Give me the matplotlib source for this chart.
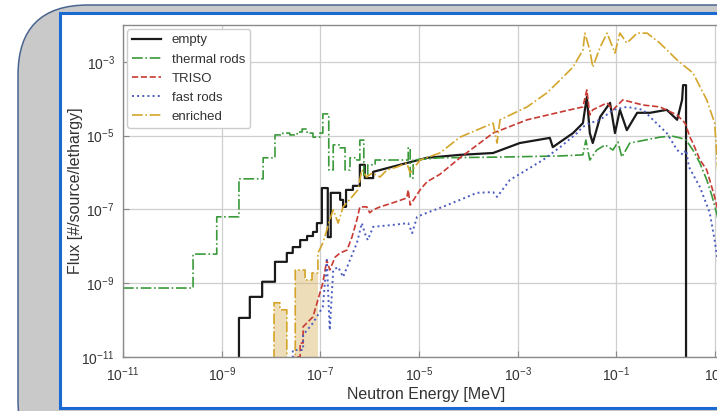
import numpy as np
import matplotlib
matplotlib.use('Agg')
import matplotlib.pyplot as plt
from matplotlib.patches import FancyBboxPatch, Rectangle
from matplotlib.transforms import IdentityTransform

plt.rcParams['font.family'] = ['Liberation Sans', 'DejaVu Sans']
plt.rcParams['mathtext.fontset'] = 'custom'
plt.rcParams['mathtext.rm'] = 'Liberation Sans'
plt.rcParams['mathtext.it'] = 'Liberation Sans:italic'
plt.rcParams['mathtext.bf'] = 'Liberation Sans:bold'

# values, stored as log10(energy [MeV]) and log10(flux)
empty_logE = [-8.65, -8.65, -8.43, -8.18, -7.92, -7.68, -7.56, -7.41, -7.27, -7.15, -7.07,
              -6.97, -6.85, -6.79, -6.60, -6.54, -6.48, -6.34, -6.20, -6.10, -5.93,
              -5.39, -4.84, -4.17, -3.50, -2.96, -2.35, -2.29, -1.88, -1.68, -1.60,
              -1.54, -1.48, -1.33, -1.13, -1.03, -0.93, -0.79, -0.58, -0.32, 0.02,
              0.23, 0.33, 0.35, 0.41, 0.41]
empty_logF = [-12.0, -9.94, -9.37, -8.96, -8.42, -8.18, -8.02, -7.83, -7.72, -7.61, -7.37,
              -6.42, -7.75, -6.55, -6.74, -6.93, -6.47, -6.36, -5.79, -6.15, -5.98,
              -5.79, -5.60, -5.52, -5.47, -5.20, -5.06, -5.31, -4.93, -4.66, -3.95,
              -4.93, -5.20, -4.49, -4.11, -4.93, -4.30, -4.85, -4.38, -4.38, -4.30,
              -4.57, -4.03, -3.63, -3.63, -12.0]

thermal_logE = [-11.0, -9.58, -9.10, -8.65, -8.16, -7.92, -7.76, -7.62, -7.47, -7.37,
                -7.27, -7.15, -7.01, -6.95, -6.85, -6.83, -6.74, -6.60, -6.50, -6.40,
                -6.26, -6.20, -6.12, -6.04, -5.89, -5.59, -5.25, -5.22, -5.18, -5.12,
                -4.58, -3.36, -2.14, -1.68, -1.62, -1.54, -1.40, -1.23, -1.07, -0.97,
                -0.89, -0.73, -0.42, -0.12, 0.12, 0.29, 0.41, 0.55, 0.69, 0.83,
                0.93, 1.04, 1.20]
thermal_logF = [-9.13, -8.21, -7.20, -6.17, -5.60, -4.98, -4.93, -4.98, -4.90, -4.82,
                -4.93, -5.04, -4.93, -4.41, -4.41, -5.93, -5.25, -5.33, -5.93, -5.60,
                -5.66, -5.12, -6.12, -5.79, -5.66, -5.66, -5.66, -5.33, -6.15, -5.66,
                -5.60, -5.58, -5.55, -5.52, -5.12, -5.66, -5.39, -5.25, -5.39, -5.17,
                -5.58, -5.20, -5.12, -5.04, -5.01, -5.06, -5.12, -5.39, -5.74, -6.20,
                -6.61, -7.15, -8.37]

triso_logE = [-7.62, -7.56, -7.41, -7.35, -7.15, -7.05, -6.95, -6.87, -6.81, -6.70,
              -6.60, -6.46, -6.36, -6.26, -6.20, -6.06, -6.00, -5.93, -5.79, -5.53,
              -5.25, -5.22, -5.18, -4.98, -4.84, -4.58, -4.17, -3.50, -2.81, -2.14,
              -1.68, -1.60, -1.54, -1.48, -1.19, -1.07, -0.87, -0.46, -0.12, 0.23,
              0.39, 0.49, 0.55, 0.69, 0.83, 0.99, 1.20]
triso_logF = [-12.0, -11.0, -10.62, -10.18, -9.91, -9.45, -8.99, -8.37, -8.64, -8.29,
              -8.18, -8.10, -7.75, -7.28, -6.93, -6.93, -7.09, -7.01, -6.93, -6.82,
              -6.69, -6.47, -6.88, -6.47, -6.25, -6.05, -5.60, -4.93, -4.57, -4.36,
              -4.22, -3.76, -4.44, -4.30, -4.11, -4.30, -4.03, -4.17, -4.22, -4.44,
              -4.66, -5.04, -5.20, -5.65, -5.93, -6.66, -7.83]

fast_logE = [-7.66, -7.62, -7.56, -7.35, -7.15, -6.95, -6.87, -6.81, -6.74, -6.64,
             -6.54, -6.40, -6.26, -6.16, -6.10, -6.04, -5.93, -5.53, -5.22, -5.14,
             -5.04, -4.84, -4.52, -4.17, -3.83, -3.50, -3.42, -3.16, -2.49, -2.14,
             -1.80, -1.68, -1.54, -1.33, -1.07, -0.79, -0.46, -0.26, 0.02, 0.23,
             0.35, 0.41, 0.47, 0.69, 0.89, 0.99, 1.14]
fast_logF = [-12.0, -11.0, -10.81, -10.40, -10.08, -9.64, -8.37, -10.27, -8.64, -8.56,
             -8.83, -8.37, -7.91, -7.37, -7.64, -7.83, -7.47, -7.42, -7.37, -7.64,
             -7.20, -7.09, -6.93, -6.74, -6.55, -6.53, -6.66, -6.20, -5.66, -5.31,
             -4.93, -4.76, -4.66, -4.57, -4.30, -4.22, -4.30, -4.57, -4.93, -5.39,
             -5.52, -5.39, -5.85, -6.39, -7.09, -7.83, -9.18]

enriched_logE = [-7.96, -7.94, -7.82, -7.68, -7.51, -7.31, -7.17, -7.05, -6.95, -6.87,
                 -6.81, -6.74, -6.64, -6.54, -6.36, -6.24, -6.16, -6.06, -5.95, -5.79,
                 -5.65, -5.45, -5.25, -5.18, -4.98, -4.58, -4.17, -3.50, -3.42, -3.36,
                 -2.81, -2.41, -2.14, -1.88, -1.68, -1.64, -1.54, -1.48, -1.33, -1.19,
                 -1.03, -0.93, -0.79, -0.58, -0.38, -0.12, 0.23, 0.55, 0.83, 0.99,
                 1.04, 1.14]
enriched_logF = [-12.0, -9.53, -9.72, -12.0, -8.64, -8.91, -8.72, -8.18, -7.91, -7.56,
                 -7.28, -7.01, -7.37, -6.93, -6.66, -6.47, -5.93, -6.12, -6.01, -6.12,
                 -5.93, -5.85, -5.74, -6.01, -5.66, -5.47, -5.04, -4.66, -5.20, -4.57,
                 -4.22, -3.84, -3.49, -3.14, -2.68, -2.22, -2.68, -3.14, -2.60, -2.22,
                 -2.76, -2.22, -2.49, -2.22, -2.22, -2.49, -2.95, -3.30, -4.03, -4.66,
                 -5.66, -7.83]

# name, logE, logF, colour, linestyle, linewidth, energy below which the curve is a histogram
series = [
    ('empty', empty_logE, empty_logF, '#1a1a1a', '-', 1.6, -5.9),
    ('thermal rods', thermal_logE, thermal_logF, '#3a9a3a', '-.', 1.2, -5.0),
    ('TRISO', triso_logE, triso_logF, '#c83a32', '--', 1.2, -7.3),
    ('fast rods', fast_logE, fast_logF, '#4a5cc0', ':', 1.4, -7.3),
    ('enriched', enriched_logE, enriched_logF, '#d4a52a', '-.', 1.2, -7.0),
]


def step_then_line(le, lf, cut):
    # histogram corners for the coarse low-energy bins, straight segments after
    xs, ys = [], []
    for i in range(len(le)):
        xs.append(le[i])
        ys.append(lf[i])
        if i + 1 < len(le) and le[i + 1] <= cut:
            xs.append(le[i + 1])
            ys.append(lf[i])
    return 10.0 ** np.array(xs), 10.0 ** np.array(ys)


fig = plt.figure(figsize=(7.17, 4.11), dpi=100)

# slide-like frame behind the chart
panel = FancyBboxPatch((18, -60), 800, 466, boxstyle='round,pad=0,rounding_size=70',
                       fc='#c9c9c9', ec='#4a6490', lw=1.1, transform=IdentityTransform(), zorder=-10)
fig.patches.append(panel)
box = Rectangle((60, 3), 800, 395, fc='white', ec='#1a6ad2', lw=2.2,
                transform=IdentityTransform(), zorder=-9)
fig.patches.append(box)

ax = fig.add_axes([123 / 717, 1 - 357 / 411, 607 / 717, 332 / 411])
ax.set_facecolor('white')

for name, le, lf, color, ls, lw, cut in series:
    x, y = step_then_line(le, lf, cut)
    ax.plot(x, y, color=color, ls=ls, lw=lw, label=name)

# the broad low-energy bins of the enriched case show as shaded bands
ex, ey = step_then_line(enriched_logE[:8], enriched_logF[:8], -7.0)
ax.fill_between(ex, 1e-12, ey, color='#d9b565', alpha=0.45, lw=0)

ax.set_xscale('log')
ax.set_yscale('log')
ax.set_xlim(1e-11, 20)
ax.set_ylim(1e-11, 1e-2)
ax.set_xticks(10.0 ** np.arange(-11, 2, 2))
ax.set_yticks(10.0 ** np.arange(-11, -2, 2))
ax.minorticks_off()
ax.tick_params(direction='in', length=4, color='#888888', labelsize=10, labelcolor='#333333', pad=6)
ax.grid(True, color='#cfcfcf', lw=0.9)
ax.set_axisbelow(True)
for sp in ax.spines.values():
    sp.set_color('#8a8a8a')
    sp.set_linewidth(1.0)

ax.set_xlabel('Neutron Energy [MeV]', fontsize=11.5, color='#333333', labelpad=2)
ax.set_ylabel('Flux [#/source/lethargy]', fontsize=11.5, color='#333333', labelpad=-1)

leg = ax.legend(loc='upper left', fontsize=9.5, handlelength=2.2, handletextpad=0.8,
                labelspacing=0.52, borderaxespad=0.3, fancybox=True, framealpha=1.0)
leg.get_frame().set_edgecolor('#cccccc')
for t in leg.get_texts():
    t.set_color('#333333')

plt.savefig('out.png', dpi=100)
